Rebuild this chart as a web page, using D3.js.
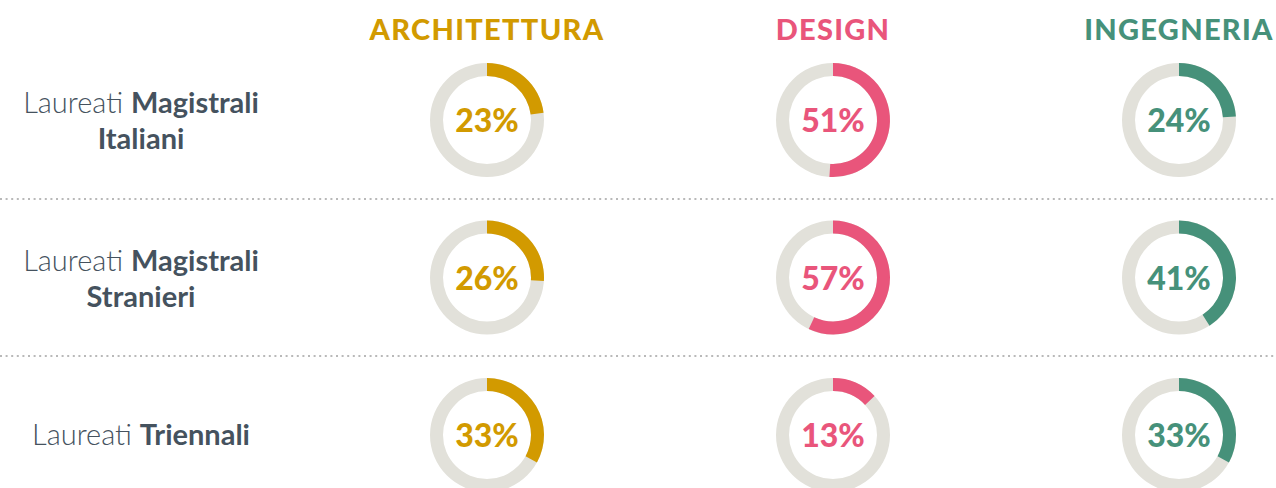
<!DOCTYPE html>
<html>
<head>
<meta charset="utf-8">
<script src="https://cdn.jsdelivr.net/npm/d3@7"></script>
<style>
  body { margin: 0; background: #fff; }
  svg { display: block; }
</style>
</head>
<body>
<svg id="chart"></svg>
<script>
var faculties = ["ARCHITETTURA", "DESIGN", "INGEGNERIA"];
var facultyColors = ["#D29A00", "#E9557B", "#46917A"];
var groups = ["Magistrali Italiani", "Magistrali Stranieri", "Triennali"];
var groupLines = [["Laureati ", "Magistrali", "Italiani"], ["Laureati ", "Magistrali", "Stranieri"], ["Laureati ", "Triennali"]];
// percentages per group, one per faculty
var values = [
  [23, 51, 24],
  [26, 57, 41],
  [33, 13, 33]
];

var width = 1276, height = 488;
var svg = d3.select("#chart").attr("width", width).attr("height", height);

var x = d3.scalePoint().domain(faculties).range([487, 1179]);
var y = d3.scalePoint().domain(groups).range([120, 435]);
var angle = d3.scaleLinear().domain([0, 100]).range([0, 2 * Math.PI]);

var outerR = 57, innerR = 44;
var arc = d3.arc().innerRadius(innerR).outerRadius(outerR);

// column headers
svg.selectAll("text.header")
   .data(faculties)
   .enter().append("text")
   .attr("class", "header")
   .attr("x", function(d) { return x(d); })
   .attr("y", 40)
   .attr("text-anchor", "middle")
   .style("font-family", "Lato")
   .style("font-weight", 900)
   .style("font-size", "29px")
   .style("letter-spacing", "1.3px")
   .style("fill", function(d, i) { return facultyColors[i]; })
   .text(function(d) { return d; });

// dotted separators
var sepY = [199, 356];
svg.selectAll("line.sep")
   .data(sepY)
   .enter().append("line")
   .attr("x1", 0).attr("x2", width)
   .attr("y1", function(d) { return d; }).attr("y2", function(d) { return d; })
   .attr("stroke", "#b9b9b9")
   .attr("stroke-width", 2)
   .attr("stroke-dasharray", "2 3.6");

// row labels
groups.forEach(function(g, i) {
  var parts = groupLines[i];
  var t = svg.append("text")
     .attr("text-anchor", "middle")
     .style("font-family", "Lato")
     .style("font-size", "29px")
     .style("fill", "#45525E");
  if (parts.length === 3) {
    var l1 = t.append("tspan").attr("x", 141).attr("y", y(g) - 7);
    l1.append("tspan").style("font-weight", 300).text(parts[0]);
    l1.append("tspan").style("font-weight", "bold").text(parts[1]);
    t.append("tspan").attr("x", 141).attr("y", y(g) + 29)
     .style("font-weight", "bold").text(parts[2]);
  } else {
    var l = t.append("tspan").attr("x", 141).attr("y", y(g) + 10);
    l.append("tspan").style("font-weight", 300).text(parts[0]);
    l.append("tspan").style("font-weight", "bold").text(parts[1]);
  }
});

// donuts
groups.forEach(function(g, gi) {
  faculties.forEach(function(f, fi) {
    var v = values[gi][fi];
    var cell = svg.append("g").attr("transform", "translate(" + x(f) + "," + y(g) + ")");
    cell.append("path")
        .attr("d", arc({ startAngle: 0, endAngle: 2 * Math.PI }))
        .attr("fill", "#E2E1DA");
    cell.append("path")
        .attr("d", arc({ startAngle: 0, endAngle: angle(v) }))
        .attr("fill", facultyColors[fi]);
    cell.append("text")
        .attr("text-anchor", "middle")
        .attr("y", 12)
        .style("font-family", "Lato")
        .style("font-weight", 900)
        .style("font-size", "32px")
        .style("fill", facultyColors[fi])
        .text(v + "%");
  });
});
</script>
</body>
</html>
